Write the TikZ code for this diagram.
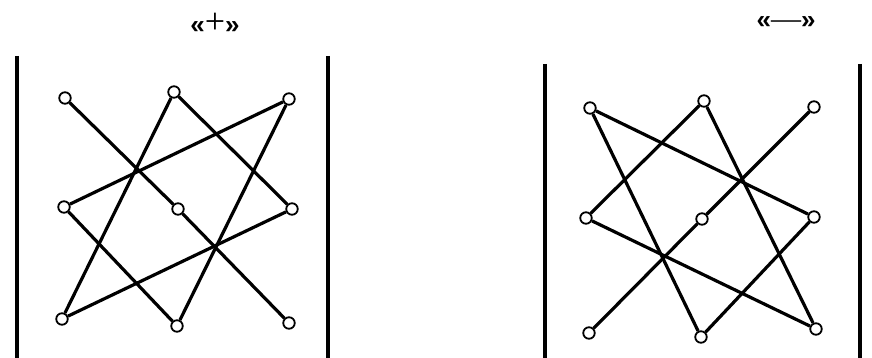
\documentclass[tikz,border=0pt]{standalone}
\usepackage{fontspec}
\setmainfont{Liberation Serif}
\newfontfamily\guifont{Liberation Sans}
\tikzset{
  dotnode/.style={circle,draw=black,fill=white,line width=1.8pt,minimum size=11.5pt,inner sep=0pt},
  edge/.style={line width=3.2pt,black},
  wall/.style={line width=3.4pt,black},
  lbl/.style={inner sep=0pt,anchor=center}
}
\begin{document}
\begin{tikzpicture}[x=1pt,y=-1pt]
\useasboundingbox (0,0) rectangle (872,358);
% labels
\node[lbl] (lplus) at (215,23) {{\guifont\bfseries\fontsize{26}{26}\selectfont «}{\fontsize{36}{36}\selectfont +}{\guifont\bfseries\fontsize{26}{26}\selectfont »}};
\node[lbl] (lminus) at (786,23) {{\guifont\bfseries\fontsize{26}{26}\selectfont «}{\fontsize{30}{30}\selectfont —}{\guifont\bfseries\fontsize{26}{26}\selectfont »}};
% walls
\coordinate (w1t) at (17,56); \coordinate (w1b) at (17,358);
\coordinate (w2t) at (328,56); \coordinate (w2b) at (328,358);
\coordinate (w3t) at (545,64); \coordinate (w3b) at (545,358);
\coordinate (w4t) at (860,64); \coordinate (w4b) at (860,358);
\draw[wall] (w1t) -- (w1b);
\draw[wall] (w2t) -- (w2b);
\draw[wall] (w3t) -- (w3b);
\draw[wall] (w4t) -- (w4b);
% left figure nodes
\node[dotnode] (aTL) at (65,98) {};
\node[dotnode] (aTM) at (174,92) {};
\node[dotnode] (aTR) at (289,99) {};
\node[dotnode] (aML) at (64,207) {};
\node[dotnode] (aMM) at (178,209) {};
\node[dotnode] (aMR) at (292,209) {};
\node[dotnode] (aBL) at (62,319) {};
\node[dotnode] (aBM) at (177,326) {};
\node[dotnode] (aBR) at (289,323) {};
\draw[edge] (aTL) -- (aMM);
\draw[edge] (aMM) -- (aBR);
\draw[edge] (aTM) -- (aBL);
\draw[edge] (aTM) -- (aMR);
\draw[edge] (aTR) -- (aML);
\draw[edge] (aTR) -- (aBM);
\draw[edge] (aML) -- (aBM);
\draw[edge] (aMR) -- (aBL);
% right figure nodes
\node[dotnode] (bTL) at (590,108) {};
\node[dotnode] (bTM) at (704,101) {};
\node[dotnode] (bTR) at (814,107) {};
\node[dotnode] (bML) at (586,218) {};
\node[dotnode] (bMM) at (702,219) {};
\node[dotnode] (bMR) at (814,217) {};
\node[dotnode] (bBL) at (589,333) {};
\node[dotnode] (bBM) at (701,337) {};
\node[dotnode] (bBR) at (816,329) {};
\draw[edge] (bBL) -- (bMM);
\draw[edge] (bMM) -- (bTR);
\draw[edge] (bTL) -- (bMR);
\draw[edge] (bTL) -- (bBM);
\draw[edge] (bTM) -- (bML);
\draw[edge] (bTM) -- (bBR);
\draw[edge] (bML) -- (bBR);
\draw[edge] (bBM) -- (bMR);
\end{tikzpicture}
\end{document}
